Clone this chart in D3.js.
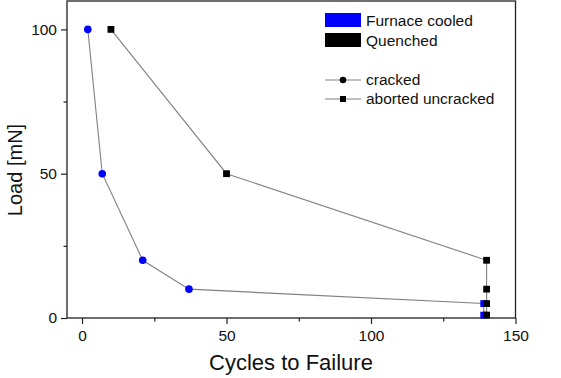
<!DOCTYPE html>
<html>
<head>
<meta charset="utf-8">
<script src="https://cdn.jsdelivr.net/npm/d3@7"></script>
<style>
  body { margin: 0; background: #fff; }
  svg { display: block; font-family: "Liberation Sans", Arial, sans-serif; }
</style>
</head>
<body>
<div id="chart"></div>
<script>
// data
const fcCycles = [2, 7, 21, 37, 139, 139]
const fcLoad = [100, 50, 20, 10, 5, 1]
const fcType = ["cracked", "cracked", "cracked", "cracked", "aborted", "aborted"]
const qCycles = [10, 50, 140, 140, 140, 140]
const qLoad = [100, 50, 20, 10, 5, 1]
const qType = ["aborted", "aborted", "aborted", "aborted", "aborted", "aborted"]

const xMajor = [0, 50, 100, 150]
const xMinor = [25, 75, 125]
const yMajor = [0, 50, 100]
const yMinor = [25, 75]

const W = 561, H = 378
const PLOT = { LEFT: 67, RIGHT: 515.5, TOP: 1, BOTTOM: 318 }

const svg = d3.select("#chart").append("svg")
  .attr("width", W)
  .attr("height", H)

svg.append("rect").attr("width", W).attr("height", H).attr("fill", "#fff")

const x = d3.scaleLinear().domain([-5.2, 150]).range([PLOT.LEFT, PLOT.RIGHT])
const y = d3.scaleLinear().domain([0, 110]).range([PLOT.BOTTOM, PLOT.BOTTOM - 110 * 2.886])

// axes
svg.append("g")
  .attr("transform", `translate(0,${PLOT.BOTTOM})`)
  .call(d3.axisBottom(x).tickValues(xMajor).tickSize(6).tickPadding(6).tickFormat(d3.format("d")))
svg.append("g")
  .attr("transform", `translate(0,${PLOT.BOTTOM})`)
  .call(d3.axisBottom(x).tickValues(xMinor).tickSize(3.5).tickFormat(""))
svg.append("g")
  .attr("transform", `translate(${PLOT.LEFT},0)`)
  .call(d3.axisLeft(y).tickValues(yMajor).tickSize(6).tickPadding(4).tickFormat(d3.format("d")))
svg.append("g")
  .attr("transform", `translate(${PLOT.LEFT},0)`)
  .call(d3.axisLeft(y).tickValues(yMinor).tickSize(3.5).tickFormat(""))

svg.selectAll(".domain").remove()
svg.selectAll(".tick line").attr("stroke", "#222").attr("stroke-width", 1.2)
svg.selectAll(".tick text")
  .attr("fill", "#111")
  .style("font-size", "15.5px")
  .style("font-family", "Liberation Sans, Arial, sans-serif")

// frame
svg.append("rect")
  .attr("x", PLOT.LEFT).attr("y", PLOT.TOP)
  .attr("width", PLOT.RIGHT - PLOT.LEFT).attr("height", PLOT.BOTTOM - PLOT.TOP)
  .attr("fill", "none").attr("stroke", "#222").attr("stroke-width", 1.3)

// titles
svg.append("text")
  .attr("x", 291)
  .attr("y", 370)
  .attr("text-anchor", "middle")
  .style("font-size", "22px")
  .attr("fill", "#111")
  .text("Cycles to Failure")

svg.append("text")
  .attr("transform", `translate(22,170) rotate(-90)`)
  .attr("text-anchor", "middle")
  .style("font-size", "20px")
  .attr("fill", "#111")
  .text("Load [mN]")

// lines
const line = d3.line().x(d => x(d.c)).y(d => y(d.l))
const fc = fcCycles.map((c, i) => ({ c: c, l: fcLoad[i], t: fcType[i] }))
const q = qCycles.map((c, i) => ({ c: c, l: qLoad[i], t: qType[i] }))

svg.append("path").datum(fc).attr("d", line)
  .attr("fill", "none").attr("stroke", "#808080").attr("stroke-width", 1.1)
svg.append("path").datum(q).attr("d", line)
  .attr("fill", "none").attr("stroke", "#808080").attr("stroke-width", 1.1)

function drawMarkers(data, color) {
  const g = svg.append("g")
  g.selectAll("circle")
    .data(data.filter(d => d.t == "cracked"))
    .join("circle")
    .attr("cx", d => x(d.c))
    .attr("cy", d => y(d.l))
    .attr("r", 3.8)
    .attr("fill", color)
  g.selectAll("rect")
    .data(data.filter(d => d.t == "aborted"))
    .join("rect")
    .attr("x", d => x(d.c) - 3.4)
    .attr("y", d => y(d.l) - 3.4)
    .attr("width", 6.8)
    .attr("height", 6.8)
    .attr("fill", color)
}
drawMarkers(fc, "#0000ff")
drawMarkers(q, "#000000")

// legend
const legend = svg.append("g").style("font-size", "15.5px").attr("fill", "#111")
const swatches = [["Furnace cooled", "#0000ff"], ["Quenched", "#000000"]]
swatches.forEach((s, i) => {
  legend.append("rect")
    .attr("x", 325).attr("y", 13 + i * 20)
    .attr("width", 36).attr("height", 14)
    .attr("fill", s[1])
  legend.append("text").attr("x", 366).attr("y", 26 + i * 20).text(s[0])
})
const symbols = [["cracked", "circle"], ["aborted uncracked", "square"]]
symbols.forEach((s, i) => {
  const ly = 80 + i * 19
  legend.append("line")
    .attr("x1", 325).attr("x2", 361).attr("y1", ly).attr("y2", ly)
    .attr("stroke", "#808080").attr("stroke-width", 1.1)
  if (s[1] == "circle") {
    legend.append("circle").attr("cx", 343).attr("cy", ly).attr("r", 3.3).attr("fill", "#000")
  } else {
    legend.append("rect").attr("x", 340).attr("y", ly - 3).attr("width", 6).attr("height", 6).attr("fill", "#000")
  }
  legend.append("text").attr("x", 366).attr("y", ly + 5).text(s[0])
})
</script>
</body>
</html>
